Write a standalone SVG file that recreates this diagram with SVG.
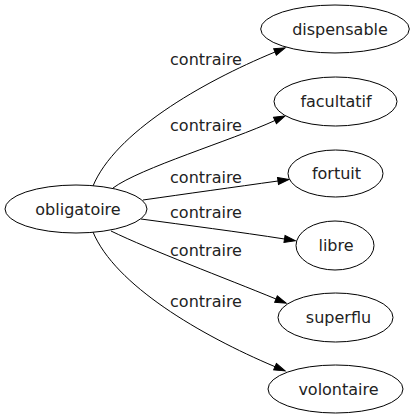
<svg xmlns="http://www.w3.org/2000/svg" width="416" height="419" viewBox="0 0 416 419">
<style>
.n ellipse{fill:#fff;stroke:#000;stroke-width:1}
.t{font-family:"DejaVu Sans",Verdana,sans-serif;font-size:16px;fill:#222;text-anchor:middle}
.e path{fill:none;stroke:#000;stroke-width:1;marker-end:url(#ah)}
</style>
<defs>
<marker id="ah" markerUnits="userSpaceOnUse" markerWidth="12" markerHeight="9" refX="0" refY="4.5" orient="auto" viewBox="0 0 12 9" overflow="visible">
<path d="M0,1 L11,4.5 L0,8 Z" fill="#000" stroke="#000" stroke-width="1"/>
</marker>
</defs>
<rect width="416" height="419" fill="#fff"/>
<g id="edges" class="e">
<path d="M93,186 C115,133 200,83 275,52"/>
<path d="M113,188 C140,168 230,141 275,120.5"/>
<path d="M143,200 C185,194 235,187 278,181"/>
<path d="M141,219 C185,225 240,232 284.5,239"/>
<path d="M111,231 C150,250 225,278 276,299"/>
<path d="M93,232 C115,285 200,335 275,366.7"/>
</g>
<g id="edge-labels">
<text class="t" x="206" y="65">contraire</text>
<text class="t" x="206" y="131">contraire</text>
<text class="t" x="206" y="183">contraire</text>
<text class="t" x="206" y="218">contraire</text>
<text class="t" x="206" y="256">contraire</text>
<text class="t" x="206" y="307">contraire</text>
</g>
<g id="node-obligatoire" class="n"><ellipse cx="76" cy="209" rx="71" ry="24"/><text class="t" x="78" y="215">obligatoire</text></g>
<g id="node-dispensable" class="n"><ellipse cx="335" cy="29" rx="74.3" ry="24"/><text class="t" x="340" y="35">dispensable</text></g>
<g id="node-facultatif" class="n"><ellipse cx="335.5" cy="101.5" rx="61.5" ry="24.5"/><text class="t" x="336" y="107">facultatif</text></g>
<g id="node-fortuit" class="n"><ellipse cx="335.5" cy="173.5" rx="47.5" ry="23.5"/><text class="t" x="336.5" y="179">fortuit</text></g>
<g id="node-libre" class="n"><ellipse cx="335" cy="245.5" rx="39" ry="24.5"/><text class="t" x="336" y="251">libre</text></g>
<g id="node-superflu" class="n"><ellipse cx="335.5" cy="317.5" rx="57.5" ry="24.5"/><text class="t" x="338.5" y="323">superflu</text></g>
<g id="node-volontaire" class="n"><ellipse cx="335.5" cy="389" rx="67.5" ry="24"/><text class="t" x="338.5" y="395">volontaire</text></g>
</svg>
